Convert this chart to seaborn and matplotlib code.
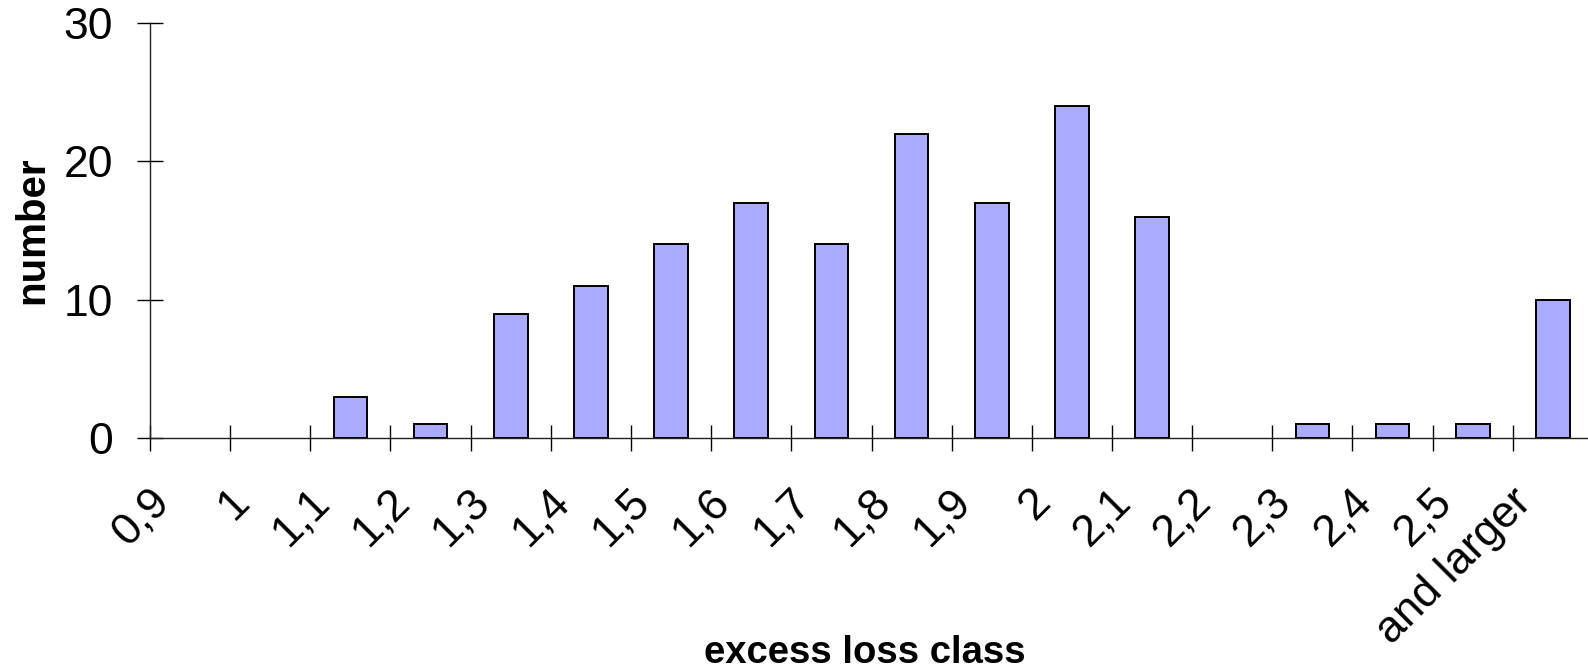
import seaborn as sns
import matplotlib.pyplot as plt
import matplotlib.transforms as mtransforms
import pandas as pd

# excess loss histogram

classes = ["0,9", "1", "1,1", "1,2", "1,3", "1,4", "1,5", "1,6", "1,7", "1,8",
           "1,9", "2", "2,1", "2,2", "2,3", "2,4", "2,5", "and larger"]
counts = [0, 0, 3, 1, 9, 11, 14, 17, 14, 22, 17, 24, 16, 0, 1, 1, 1, 10]
y_ticks = [0, 10, 20, 30]

df = pd.DataFrame({"class": classes, "number": counts})

sns.set_theme(style="ticks")
plt.rcParams["font.family"] = ["Liberation Sans", "DejaVu Sans"]

fig = plt.figure(figsize=(15.88, 6.72), dpi=100)
ax = fig.add_axes([150 / 1588, 1 - 438 / 672, 1443 / 1588, 415 / 672])

sns.barplot(
    data=df,
    x="class",
    y="number",
    color="#aaaaff",
    saturation=1,
    edgecolor="black",
    linewidth=1.4,
    width=0.42,
    ax=ax,
)
# empty classes: no outline on the axis
for p in ax.patches:
    if p.get_height() == 0:
        p.set_linewidth(0)

ax.set_xlim(-0.5, len(classes) - 0.5)
ax.set_ylim(0, 30)

# class boundaries get the tick marks, labels sit on minor ticks
ax.set_xticks([i - 0.5 for i in range(len(classes) + 1)], labels=[])
ax.set_xticks(range(len(classes)), labels=classes, minor=True)
ax.tick_params(axis="x", which="major", direction="inout", length=19.4, width=1, color="black")
ax.tick_params(axis="x", which="minor", length=0, pad=31, labelsize=32, labelcolor="black")
shift = mtransforms.ScaledTranslation(-0.13, 0, fig.dpi_scale_trans)
for lab in ax.get_xticklabels(minor=True):
    lab.set_rotation(45)
    lab.set_ha("right")
    lab.set_transform(lab.get_transform() + shift)

ax.set_yticks(y_ticks)
ax.tick_params(axis="y", direction="inout", length=19.4, width=1, color="black",
               pad=16.9, labelsize=32, labelcolor="black")

sns.despine(ax=ax)
for side in ["left", "bottom"]:
    ax.spines[side].set_color("#222222")
    ax.spines[side].set_linewidth(1)

ax.set_xlabel("excess loss class", fontsize=27.5, fontweight="bold", color="black")
ax.xaxis.set_label_coords((865 - 150) / 1443, (438 - 653) / 415)
ax.xaxis.label.set_va("center")
ax.set_ylabel("number", fontsize=29, fontweight="bold", color="black")
ax.yaxis.set_label_coords((32 - 150) / 1443, 0.5)
ax.yaxis.label.set_va("center")

fig.savefig("out.png", dpi=100)
plt.close()
